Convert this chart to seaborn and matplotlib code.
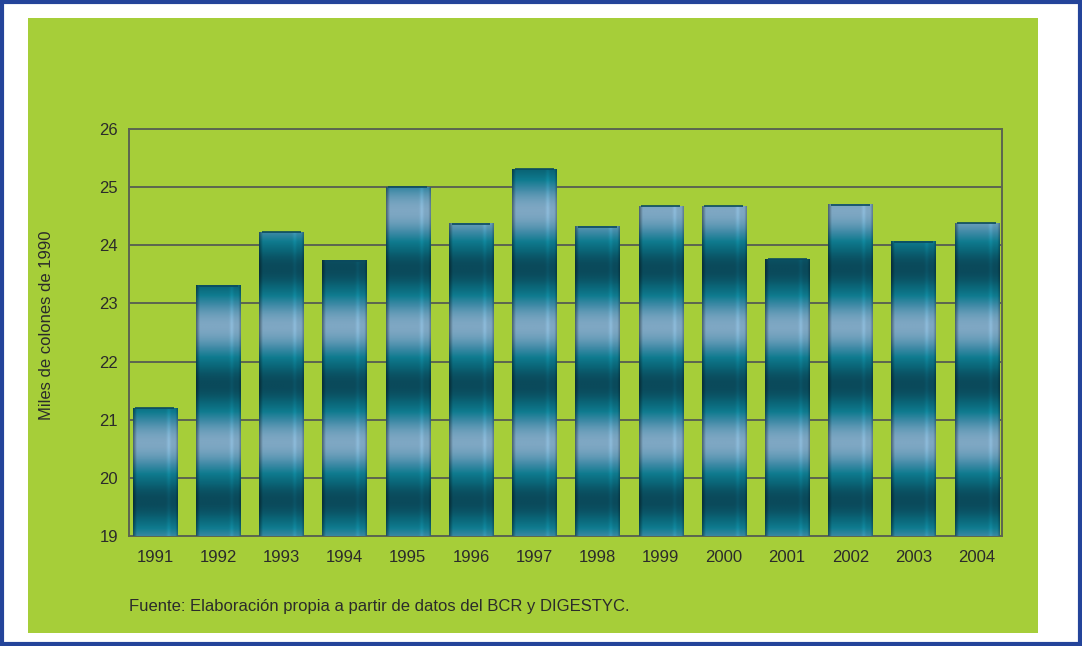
import numpy as np
import pandas as pd
import matplotlib
matplotlib.use("Agg")
import matplotlib.pyplot as plt
from matplotlib.colors import LinearSegmentedColormap
from matplotlib.patches import Rectangle
import seaborn as sns

# Ingreso per cápita, miles de colones de 1990
years = ["1991", "1992", "1993", "1994", "1995", "1996", "1997",
         "1998", "1999", "2000", "2001", "2002", "2003", "2004"]
values = [21.2, 23.3, 24.22, 23.73, 25.0, 24.37, 25.31,
          24.32, 24.67, 24.67, 23.76, 24.7, 24.06, 24.38]
y_ticks = [19, 20, 21, 22, 23, 24, 25, 26]

ylabel = "Miles de colones de 1990"
source = "Fuente: Elaboración propia a partir de datos del BCR y DIGESTYC."

sns.set_style("white")
plt.rcParams["font.family"] = ["Liberation Sans", "DejaVu Sans"]

GREEN = "#a6ce39"
TEXT = "#2b2b2b"
LINE = "#5b6650"

fig = plt.figure(figsize=(10.82, 6.46), dpi=100)
fig.patch.set_facecolor("white")

# outer blue frame and green panel
fig.patches.append(Rectangle((0.0015, 0.003), 0.997, 0.994, transform=fig.transFigure,
                             facecolor="white", edgecolor="#24449a", linewidth=3, zorder=0))
fig.patches.append(Rectangle((28 / 1082, 1 - 633 / 646), (1038 - 28) / 1082, (633 - 18) / 646,
                             transform=fig.transFigure, facecolor=GREEN,
                             edgecolor="none", zorder=1))

ax = fig.add_axes([129 / 1082, 1 - 536 / 646, (1002 - 129) / 1082, (536 - 129) / 646])
ax.set_facecolor(GREEN)
ax.set_zorder(2)

df = pd.DataFrame({"year": years, "value": values})
sns.barplot(data=df, x="year", y="value", width=0.7, ax=ax, color="#0e7187",
            linewidth=0, zorder=3)

XLIM = (-0.41, len(years) - 0.6)
ax.set_ylim(y_ticks[0], y_ticks[-1])
ax.set_yticks(y_ticks)
ax.set_xlim(*XLIM)
ax.yaxis.grid(True, color=LINE, linewidth=1.4, zorder=1)
ax.set_axisbelow(True)
for s in ax.spines.values():
    s.set_color(LINE)
    s.set_linewidth(1.4)
ax.tick_params(axis="both", length=0, labelsize=12, labelcolor=TEXT, pad=8)
ax.tick_params(axis="x", pad=10)
ax.set_xlabel("")
ax.set_ylabel("")

# cylinder shading for the bars
cmap = LinearSegmentedColormap.from_list(
    "cyl", [(0.0, "#0a4a5b"), (0.2, "#0a6476"), (0.45, "#0f7b8f"),
            (0.7, "#3f8aa6"), (1.0, "#7ea7c3")])
bottom = ax.get_ylim()[0]
for p in ax.patches:
    x0 = p.get_x()
    w = p.get_width()
    top = p.get_y() + p.get_height()
    p.set_facecolor("none")
    ny, nx = 300, 60
    yy = np.linspace(bottom, top, ny)
    t = 0.5 + 0.5 * np.cos(np.pi * (yy - 20.6))
    rgb = cmap(t)[:, :3]
    u = np.linspace(0, 1, nx)
    shade = np.ones(nx)
    shade *= np.clip(0.6 + 0.4 * (u / 0.08), 0.6, 1.0)
    shade *= 1 + 0.12 * np.exp(-((u - 0.8) / 0.04) ** 2)
    shade *= np.clip(0.75 + 0.25 * ((1 - u) / 0.05), 0.75, 1.0)
    img = np.clip(rgb[:, None, :] * shade[None, :, None], 0, 1)
    ax.imshow(img, extent=[x0, x0 + w, bottom, top], origin="lower",
              aspect="auto", zorder=3, interpolation="bilinear")
    ax.plot([x0 + w * 0.06, x0 + w * 0.94], [top, top], color="#0b4a5e",
            linewidth=1.2, zorder=4, solid_capstyle="butt")

ax.set_xlim(*XLIM)
ax.set_ylim(y_ticks[0], y_ticks[-1])

fig.text(47 / 1082, 1 - 325 / 646, ylabel, rotation=90, ha="center", va="center",
         fontsize=12, color=TEXT)
fig.text(129 / 1082, 1 - 607 / 646, source, ha="left", va="center",
         fontsize=12, color=TEXT)

fig.savefig("out.png", dpi=100, facecolor=fig.get_facecolor())
